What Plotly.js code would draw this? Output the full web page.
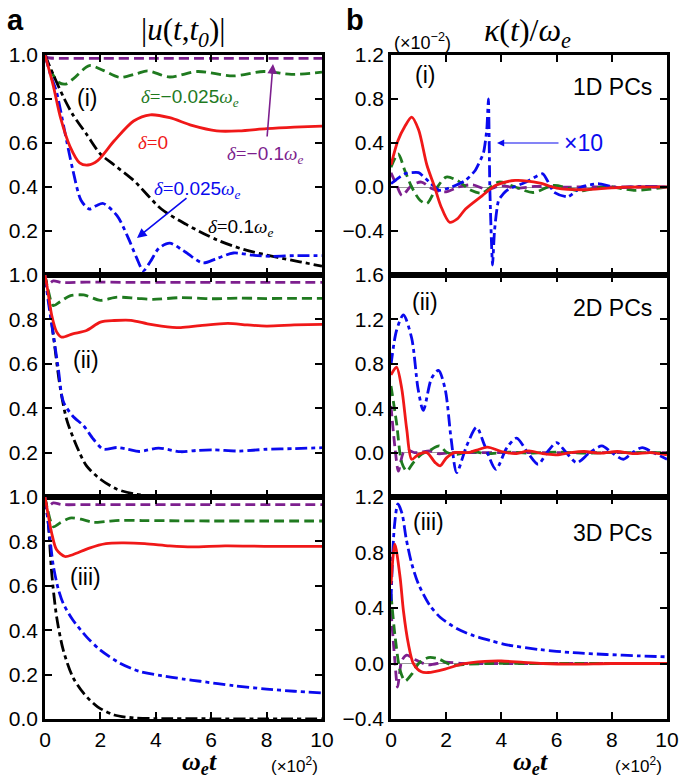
<!DOCTYPE html>
<html><head><meta charset="utf-8">
<script src="https://cdn.plot.ly/plotly-3.0.1.min.js"></script>
<style>html,body{margin:0;padding:0;background:#fff}</style>
</head><body><div id="chart" style="width:685px;height:781px"></div>
<script>
// ---------- DATA (x in units of 10^2 ω_e t) ----------
// Panel a(i) |u(t,t0)|, 1D PCs
const a1_purple_x=[0,0.1,0.5,2,4,6,8,10];
const a1_purple_y=[1.0,0.988,0.985,0.985,0.985,0.985,0.985,0.985];
const a1_green_x=[0,0.2,0.5,0.75,1.05,1.6,2.1,2.7,3.3,3.7,4.5,5.5,6.8,7.9,8.9,10];
const a1_green_y=[1.0,0.93,0.875,0.868,0.895,0.952,0.93,0.898,0.915,0.928,0.9,0.925,0.905,0.925,0.912,0.922];
const a1_red_x=[0,0.3,0.55,0.9,1.25,1.55,1.9,2.5,3.2,3.8,4.5,5.3,6.2,7,8,9,10];
const a1_red_y=[1.0,0.86,0.72,0.585,0.51,0.5,0.52,0.61,0.7,0.728,0.715,0.68,0.655,0.655,0.665,0.672,0.677];
const a1_black_x=[0,0.3,0.7,1.0,1.5,2.0,2.5,3.2,4.2,5.1,6.2,7.2,8.4,9.2,10];
const a1_black_y=[1.0,0.91,0.8,0.73,0.64,0.55,0.5,0.43,0.3,0.23,0.16,0.115,0.08,0.06,0.04];
const a1_blue_x=[0,0.2,0.42,0.7,1.0,1.3,1.6,1.85,2.1,2.6,3.0,3.3,3.55,3.8,4.1,4.5,5.0,5.7,6.2,6.8,7.5,8.2,9,10];
const a1_blue_y=[1.0,0.91,0.83,0.66,0.48,0.34,0.3,0.315,0.325,0.27,0.17,0.08,0.02,0.06,0.12,0.145,0.11,0.055,0.075,0.1,0.09,0.085,0.088,0.088];
// Panel a(ii), 2D PCs
const a2_purple_x=[0,0.08,0.3,0.6,1.5,3,5,7,10];
const a2_purple_y=[1.0,0.955,0.973,0.966,0.968,0.967,0.967,0.967,0.967];
const a2_green_x=[0,0.1,0.3,0.55,0.9,1.4,2.0,2.6,3.3,3.9,4.9,6,7,8,9,10];
const a2_green_y=[1.0,0.94,0.862,0.88,0.906,0.91,0.886,0.9,0.895,0.89,0.898,0.893,0.896,0.894,0.895,0.895];
const a2_red_x=[0,0.1,0.24,0.42,0.6,1.0,1.5,2.0,2.5,3.1,3.7,4.2,4.9,5.6,6.6,7.3,8.0,9,10];
const a2_red_y=[1.0,0.93,0.82,0.744,0.72,0.735,0.75,0.788,0.795,0.796,0.78,0.77,0.763,0.772,0.782,0.775,0.77,0.775,0.778];
const a2_black_x=[0,0.12,0.3,0.54,0.78,1.14,1.5,2.0,2.6,3.3,4.0,5,6,8,10];
const a2_black_y=[1.0,0.9,0.73,0.5,0.35,0.23,0.14,0.08,0.035,0.012,0.004,0.002,0.001,0.001,0.001];
const a2_blue_x=[0,0.12,0.3,0.48,0.66,1.0,1.4,1.75,2.1,2.6,3.0,3.4,4.1,4.9,5.5,6.1,7.0,8.0,9,10];
const a2_blue_y=[1.0,0.88,0.73,0.578,0.43,0.365,0.32,0.26,0.216,0.223,0.215,0.205,0.22,0.204,0.21,0.212,0.207,0.215,0.218,0.222];
// Panel a(iii), 3D PCs
const a3_purple_x=[0,0.08,0.3,0.6,1.5,3,5,7,10];
const a3_purple_y=[1.0,0.955,0.973,0.966,0.966,0.966,0.966,0.966,0.966];
const a3_green_x=[0,0.1,0.3,0.54,0.9,1.3,1.75,2.2,2.8,3.5,4.5,6,8,10];
const a3_green_y=[1.0,0.94,0.866,0.883,0.905,0.9,0.886,0.89,0.895,0.894,0.893,0.892,0.892,0.892];
const a3_red_x=[0,0.1,0.24,0.42,0.72,1.0,1.6,2.2,2.8,3.6,4.5,5.3,6.5,8,10];
const a3_red_y=[1.0,0.93,0.838,0.762,0.732,0.74,0.77,0.79,0.793,0.79,0.78,0.775,0.78,0.778,0.778];
const a3_black_x=[0,0.12,0.24,0.42,0.66,1.0,1.4,1.9,2.5,3.2,4,6,8,10];
const a3_black_y=[1.0,0.88,0.66,0.46,0.31,0.19,0.115,0.055,0.018,0.005,0.002,0.001,0.001,0.001];
const a3_blue_x=[0,0.12,0.3,0.48,0.66,1.0,1.5,2.0,2.7,3.4,4.2,5.0,5.6,6.8,8.0,9,10];
const a3_blue_y=[1.0,0.88,0.69,0.585,0.52,0.447,0.37,0.31,0.252,0.215,0.195,0.18,0.17,0.15,0.135,0.125,0.117];
// Panel b(i) κ(t)/ω_e (×10^-2), 1D PCs (blue ×10)
const b1_purple_x=[0,0.2,0.4,0.75,1.1,1.47,1.95,2.45,2.95,3.45,4,4.6,5.2,6,7,8,10];
const b1_purple_y=[0.13,0.02,-0.077,0.015,0.045,-0.013,-0.045,0.0,0.02,-0.02,0.01,-0.01,0.005,0,0,0,0];
const b1_green_x=[0,0.26,0.5,0.75,1.05,1.3,1.6,2.0,2.4,2.9,3.3,3.9,4.5,5.15,5.9,6.85,7.8,8.8,10];
const b1_green_y=[0.18,0.3,0.15,0.0,-0.12,-0.15,-0.03,0.09,0.06,-0.03,-0.055,0.045,0.0,-0.05,0.015,-0.035,0.006,-0.03,0];
const b1_blue_x=[0,0.5,1.0,1.45,1.75,2.2,2.7,3.05,3.35,3.47,3.53,3.58,3.64,3.68,3.75,3.9,4.2,4.9,5.5,5.9,6.4,6.9,7.5,8.2,9,10];
const b1_blue_y=[0.03,0.12,0.13,0.03,-0.03,0.0,0.06,0.15,0.31,0.52,0.8,0.0,-0.5,-0.71,-0.4,-0.12,-0.03,0.046,0.12,-0.046,-0.09,0.0,0.03,-0.006,0.005,0];
const b1_red_x=[0,0.25,0.5,0.75,1.0,1.3,1.58,1.8,2.12,2.4,2.7,3.3,3.8,4.5,5.4,6.0,7.0,8,9,10];
const b1_red_y=[0.2,0.42,0.55,0.635,0.52,0.2,0.0,-0.17,-0.32,-0.29,-0.2,-0.08,0.015,0.06,0.035,-0.01,-0.025,-0.008,0,0];
// Panel b(ii), 2D PCs
const b2_purple_x=[0,0.15,0.27,0.45,0.63,0.85,1.1,1.4,1.7,2.2,3,4,6,8,10];
const b2_purple_y=[0.42,0.03,-0.167,0.0,0.02,0.0,0.005,0.015,-0.01,0.0,0.0,0,0,0,0];
const b2_green_x=[0,0.2,0.39,0.57,0.81,1.1,1.4,1.75,2.03,2.4,2.9,3.5,4.2,5,6,7,8,9,10];
const b2_green_y=[0.6,0.27,-0.09,-0.167,-0.09,-0.015,0.02,0.06,0.0,-0.015,0.01,-0.01,0.005,-0.005,0.005,-0.005,0.0,0.0,0.0];
const b2_blue_x=[0,0.2,0.45,0.75,0.98,1.17,1.47,1.72,1.96,2.18,2.38,2.74,3.1,3.4,3.8,4.19,4.55,4.95,5.33,5.65,6.0,6.35,6.73,7.2,7.64,8.0,8.42,8.75,9.1,9.5,10];
const b2_blue_y=[0.79,1.1,1.24,1.03,0.575,0.38,0.67,0.74,0.575,0.12,-0.18,0.06,0.227,0.06,-0.15,0.04,0.13,0.0,-0.105,0.0,0.09,0.0,-0.09,0.0,0.06,0.0,-0.06,0.0,0.045,0.0,-0.06];
const b2_red_x=[0,0.2,0.39,0.57,0.75,1.0,1.3,1.6,1.78,2.0,2.3,2.8,3.2,3.5,4.0,4.5,5.0,5.5,6.0,6.5,7.0,7.6,8.2,8.8,9.4,10];
const b2_red_y=[0.7,0.77,0.575,0.21,-0.06,-0.015,0,-0.09,-0.12,-0.05,0.0,0.0,0.03,0.05,0.01,-0.01,0.015,-0.01,-0.02,0.0,0.01,-0.005,0.01,-0.01,0.0,-0.02];
// Panel b(iii), 3D PCs
const b3_purple_x=[0,0.14,0.24,0.39,0.57,0.85,1.35,1.96,2.6,3.5,5,7,10];
const b3_purple_y=[0.38,0.02,-0.17,0.02,0.06,0.03,-0.01,0.01,0.0,0.0,0,0,0];
const b3_green_x=[0,0.14,0.33,0.51,0.75,1.0,1.35,1.7,2.2,2.8,3.5,5,7,10];
const b3_green_y=[0.5,0.21,-0.05,-0.126,-0.077,0.0,0.043,0.035,-0.01,-0.005,0.0,0,0,0];
const b3_blue_x=[0,0.12,0.25,0.4,0.55,0.75,1.0,1.4,1.8,2.4,3.0,3.6,4.2,5.4,6.6,7.8,9,10];
const b3_blue_y=[0.45,0.98,1.15,1.08,0.9,0.72,0.57,0.42,0.33,0.25,0.2,0.165,0.135,0.1,0.078,0.065,0.055,0.048];
const b3_red_x=[0,0.14,0.33,0.45,0.63,0.81,1.1,1.35,1.96,2.56,3.4,4.0,4.8,5.5,6.5,8,10];
const b3_red_y=[0.57,0.86,0.62,0.38,0.14,0.0,-0.06,-0.065,-0.04,-0.005,0.015,0.018,0.008,0.0,-0.005,0,0];

const xTicks=[0,2,4,6,8,10];
const aTicks12=[0.2,0.4,0.6,0.8,1.0];
const aTicks3=[0,0.2,0.4,0.6,0.8,1.0];
const bTicks1=[-0.4,0,0.4,0.8,1.2];
const bTicks2=[0,0.4,0.8,1.2,1.6];
const bTicks3=[-0.4,0,0.4,0.8,1.2];

// ---------- STYLE ----------
const W=685,H=781;
const PX=v=>v/W, PY=v=>1-v/H;
const C={purple:'#7d1f8e',green:'#1f7a1f',red:'#f01818',blue:'#0a0aee',black:'#000000'};
const DASH={purple:'10px,5px',green:'10px,5px',red:'solid',blue:'12px,4px,4px,4px',black:'12px,4px,4px,4px'};
const SANS='Liberation Sans', SERIF='Liberation Serif';

const traces=[];
function add(xs,ys,col,ax,smooth){
  traces.push({x:xs,y:ys,xaxis:'x'+ax,yaxis:'y'+ax,mode:'lines',hoverinfo:'skip',
    line:{color:C[col],width:2.8,dash:DASH[col],shape:'spline',smoothing:smooth===undefined?0.8:smooth}});
}
add(a1_purple_x,a1_purple_y,'purple','');add(a1_green_x,a1_green_y,'green','');
add(a1_black_x,a1_black_y,'black','');add(a1_blue_x,a1_blue_y,'blue','');add(a1_red_x,a1_red_y,'red','');
add(a2_purple_x,a2_purple_y,'purple','2');add(a2_green_x,a2_green_y,'green','2');
add(a2_black_x,a2_black_y,'black','2');add(a2_blue_x,a2_blue_y,'blue','2');add(a2_red_x,a2_red_y,'red','2');
add(a3_purple_x,a3_purple_y,'purple','3');add(a3_green_x,a3_green_y,'green','3');
add(a3_black_x,a3_black_y,'black','3');add(a3_blue_x,a3_blue_y,'blue','3');add(a3_red_x,a3_red_y,'red','3');
add(b1_purple_x,b1_purple_y,'purple','4');add(b1_green_x,b1_green_y,'green','4');
add(b1_blue_x,b1_blue_y,'blue','4',0.5);add(b1_red_x,b1_red_y,'red','4');
add(b2_purple_x,b2_purple_y,'purple','5');add(b2_green_x,b2_green_y,'green','5');
add(b2_blue_x,b2_blue_y,'blue','5');add(b2_red_x,b2_red_y,'red','5');
add(b3_purple_x,b3_purple_y,'purple','6');add(b3_green_x,b3_green_y,'green','6');
add(b3_blue_x,b3_blue_y,'blue','6');add(b3_red_x,b3_red_y,'red','6');

const colL=[PX(45),PX(322)], colR=[PX(391),PX(667)];
const rows=[[PY(275),PY(55)],[PY(497),PY(275)],[PY(719),PY(497)]];
const tickfont={family:SANS,size:21,color:'#000'};
function xax(dom,anchor,labels){
  return {domain:dom,anchor:anchor,range:[0,10],tickvals:xTicks,ticktext:xTicks.map(String),
    ticks:'inside',ticklen:7,tickwidth:2,tickcolor:'#000',showline:true,linewidth:2.8,linecolor:'#000',
    mirror:'ticks',showgrid:false,zeroline:false,showticklabels:labels,tickfont:tickfont,fixedrange:true};
}
function yax(dom,anchor,range,tv,zl){
  return {domain:dom,anchor:anchor,range:range,tickvals:tv,tickformat:'.1f',
    ticks:'inside',ticklen:7,tickwidth:2,tickcolor:'#000',showline:true,linewidth:2.8,linecolor:'#000',
    mirror:'ticks',showgrid:false,zeroline:zl,zerolinecolor:'#9a9a9a',zerolinewidth:1,
    tickfont:tickfont,fixedrange:true};
}
const sp=s=>`<span style="font-family:'${SERIF}'">${s}</span>`;
function delta(val){ return sp('<i>δ</i>=')+val+sp('<i>ω</i><sub><i>e</i></sub>'); }
function txt(x,y,text,size,color,family,extra){
  return Object.assign({xref:'paper',yref:'paper',x:PX(x),y:PY(y),text:text,showarrow:false,
    xanchor:'center',yanchor:'middle',font:{family:family||SANS,size:size,color:color||'#000'}},extra||{});
}
function arrow(hx,hy,tx,ty,color,w){
  return {xref:'paper',yref:'paper',x:PX(hx),y:PY(hy),ax:tx-hx,ay:ty-hy,text:'',showarrow:true,
    arrowhead:2,arrowsize:1.2,arrowwidth:w,arrowcolor:color,standoff:0,startstandoff:0};
}
const annotations=[
  txt(15,20,'<b>a</b>',29),txt(355,20,'<b>b</b>',29),
  txt(183,32,'|<i>u</i>(<i>t</i>,<i>t</i><sub><i>0</i></sub>)|',31,'#000',SERIF),
  txt(527,32,'<i>κ</i>(<i>t</i>)/<i>ω</i><sub><i>e</i></sub>',32,'#000',SERIF),
  txt(422,42,'(×10<sup>−2</sup>)',18),
  txt(87,98,'(i)',23),txt(86,360,'(ii)',23),txt(85,577,'(iii)',23),
  txt(425,75,'(i)',23),txt(425,302,'(ii)',23),txt(428,522,'(iii)',23),
  txt(612,87,'1D PCs',23),txt(612,308,'2D PCs',23),txt(612,533,'3D PCs',23),
  txt(190,98,delta('−0.025'),19,C.green),
  txt(153,143,sp('<i>δ</i>=')+'0',19,C.red),
  txt(265,155,delta('−0.1'),19,C.purple),
  txt(197,190,delta('0.025'),19,C.blue),
  txt(240,228,delta('0.1'),19,C.black),
  txt(583,143,'×10',23,C.blue),
  arrow(273,64,267,138,C.purple,1.6),
  arrow(137,238,188,197,C.blue,1.6),
  arrow(497,143,560,143,C.blue,1.2),
  txt(200,763,'<b><i>ω</i><sub><i>e</i></sub><i>t</i></b>',26,'#000',SERIF),
  txt(530,763,'<b><i>ω</i><sub><i>e</i></sub><i>t</i></b>',26,'#000',SERIF),
  txt(294,765,'(×10<sup>2</sup>)',17),
  txt(638,765,'(×10<sup>2</sup>)',17)
];

const layout={width:W,height:H,margin:{l:0,r:0,t:0,b:0},showlegend:false,
  paper_bgcolor:'#fff',plot_bgcolor:'#fff',
  xaxis:xax(colL,'y',false), yaxis:yax(rows[0],'x',[0,1],aTicks12,false),
  xaxis2:xax(colL,'y2',false), yaxis2:yax(rows[1],'x2',[0,1],aTicks12,false),
  xaxis3:xax(colL,'y3',true), yaxis3:yax(rows[2],'x3',[0,1],aTicks3,false),
  xaxis4:xax(colR,'y4',false), yaxis4:yax(rows[0],'x4',[-0.8,1.2],bTicks1,true),
  xaxis5:xax(colR,'y5',false), yaxis5:yax(rows[1],'x5',[-0.4,1.6],bTicks2,true),
  xaxis6:xax(colR,'y6',true), yaxis6:yax(rows[2],'x6',[-0.4,1.2],bTicks3,true),
  annotations:annotations};
Plotly.newPlot('chart',traces,layout,{displayModeBar:false,staticPlot:true});
</script></body></html>
